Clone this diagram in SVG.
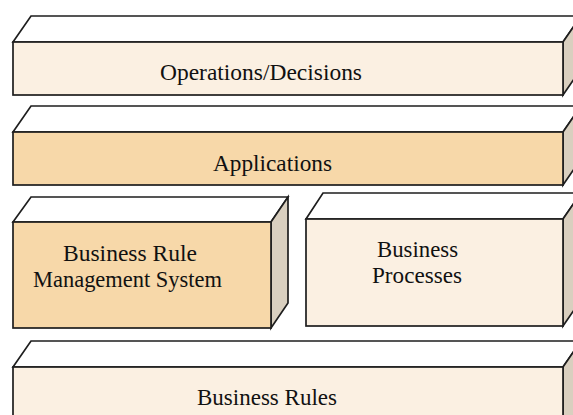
<svg xmlns="http://www.w3.org/2000/svg" width="573" height="415" viewBox="0 0 573 415">
<style>
.edge{stroke:#1e1e1e;stroke-width:1.7;stroke-linejoin:miter}
.top{fill:#ffffff}
.side{fill:#d9cfbf}
.cream{fill:#fbf0e2}
.orange{fill:#f7d8a9}
.lbl{font-family:"Liberation Serif","Times New Roman",serif;font-size:23px;fill:#111}
</style>
<rect width="573" height="415" fill="#ffffff"/>
<g id="operations">
<polygon class="top edge" points="13,42 31,16 581,16 563,42"/>
<polygon class="side edge" points="563,42 581,16 581,69 563,95"/>
<rect class="cream edge" x="13" y="42" width="550" height="53"/>
<text class="lbl" x="160" y="80" textLength="202" lengthAdjust="spacingAndGlyphs">Operations/Decisions</text>
</g>
<g id="applications">
<polygon class="top edge" points="13,132 31,106 581,106 563,132"/>
<polygon class="side edge" points="563,132 581,106 581,159 563,185"/>
<rect class="orange edge" x="13" y="132" width="550" height="53"/>
<text class="lbl" x="213" y="171" textLength="119" lengthAdjust="spacingAndGlyphs">Applications</text>
</g>
<g id="brms">
<polygon class="top edge" points="13,222 31,197 288,197 271,222"/>
<polygon class="side edge" points="271,222 288,197 288,303 271,328"/>
<rect class="orange edge" x="13" y="222" width="258" height="106"/>
<text class="lbl" x="63" y="261" textLength="134" lengthAdjust="spacingAndGlyphs">Business Rule</text>
<text class="lbl" x="33" y="287" textLength="189" lengthAdjust="spacingAndGlyphs">Management System</text>
</g>
<g id="processes">
<polygon class="top edge" points="306,219 323,193 581,193 563,219"/>
<polygon class="side edge" points="563,219 581,193 581,300 563,326"/>
<rect class="cream edge" x="306" y="219" width="257" height="107"/>
<text class="lbl" x="377" y="257" textLength="81" lengthAdjust="spacingAndGlyphs">Business</text>
<text class="lbl" x="372" y="283" textLength="90" lengthAdjust="spacingAndGlyphs">Processes</text>
</g>
<g id="rules">
<polygon class="top edge" points="13,367 31,341 581,341 563,367"/>
<polygon class="side edge" points="563,367 581,341 581,420 563,430"/>
<rect class="cream edge" x="13" y="367" width="550" height="60"/>
<text class="lbl" x="197" y="405" textLength="140" lengthAdjust="spacingAndGlyphs">Business Rules</text>
</g>
<g id="connectors"/>
</svg>
